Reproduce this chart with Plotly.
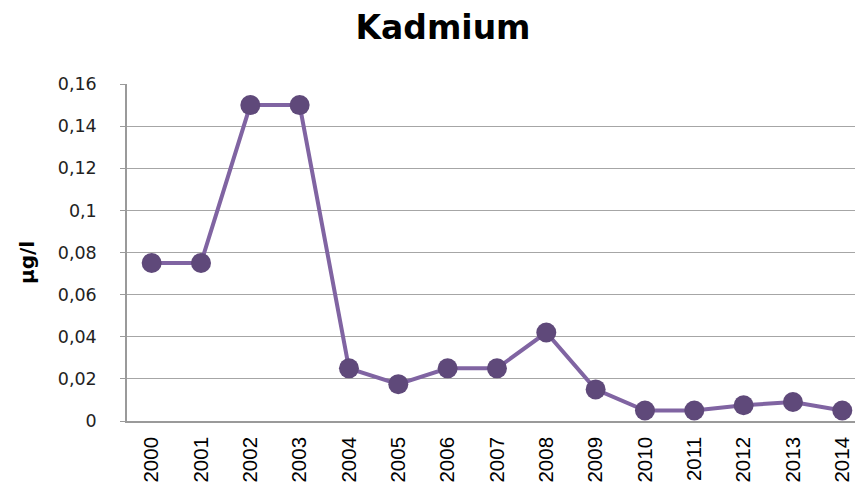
import plotly.graph_objects as go

years = [str(y) for y in range(2000, 2015)]
values = [0.075, 0.075, 0.15, 0.15, 0.025, 0.0175, 0.025, 0.025, 0.042, 0.015, 0.005, 0.005, 0.0075, 0.009, 0.005]
y_tickvals = [0, 0.02, 0.04, 0.06, 0.08, 0.1, 0.12, 0.14, 0.16]
y_ticktext = ["0", "0,02", "0,04", "0,06", "0,08", "0,1", "0,12", "0,14", "0,16"]

# page has an 8px body margin, so the figure is sized to fit the 863x486 window
OFF = 8
W, H = 863 - OFF, 486 - OFF
ml, mr, mt, mb = 127 - OFF, 0, 84 - OFF, 65
plot_w = W - ml - mr
plot_h = H - mt - mb

fig = go.Figure(go.Scatter(
    x=years, y=values, mode="lines+markers",
    line=dict(color="#8064A2", width=4),
    marker=dict(color="#5F497A", size=20),
    cliponaxis=False,
))

fig.update_layout(
    width=W, height=H,
    margin=dict(l=ml, r=mr, t=mt, b=mb, autoexpand=False),
    plot_bgcolor="white", paper_bgcolor="white",
    showlegend=False,
    title=dict(text="<b>Kadmium</b>", x=(443 - OFF) / W, xanchor="center",
               y=1 - (27 - OFF) / H, yanchor="middle",
               font=dict(family="DejaVu Sans", size=33, color="black")),
)

fig.update_xaxes(
    type="category", range=[-0.5, 14.42],
    showgrid=False, showline=True, linecolor="#9a9a9a", linewidth=1.5,
    ticks="", tickangle=-90, ticklabelstandoff=6,
    tickfont=dict(family="Liberation Sans", size=20.5, color="black"),
    automargin=False,
)
fig.update_yaxes(
    range=[0, 0.16], tickvals=y_tickvals, ticktext=y_ticktext,
    showgrid=True, gridcolor="#a6a6a6", gridwidth=1.3,
    showline=True, linecolor="#9a9a9a", linewidth=1.5,
    ticks="outside", ticklen=5, tickcolor="#9a9a9a",
    ticklabelstandoff=20,
    tickfont=dict(family="DejaVu Sans", size=17.5, color="#222222"),
    zeroline=False, automargin=False,
)

fig.add_annotation(
    text="<b>µg/l</b>", textangle=-90, showarrow=False,
    xref="paper", yref="paper",
    x=(27 - 127) / plot_w, y=(421 - 263) / plot_h,
    xanchor="center", yanchor="middle",
    font=dict(family="DejaVu Sans", size=20, color="black"),
)

fig.write_html("out.html")
